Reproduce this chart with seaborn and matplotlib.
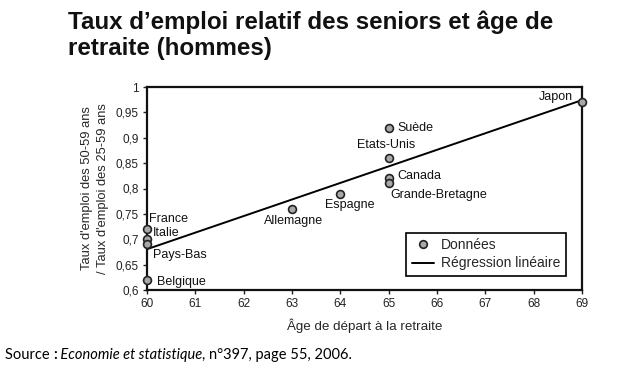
import numpy as np
import pandas as pd
import matplotlib
matplotlib.use('Agg')
import matplotlib.pyplot as plt
import seaborn as sns
from matplotlib.lines import Line2D

# données
pays = ['France', 'Italie', 'Pays-Bas', 'Belgique', 'Allemagne', 'Espagne',
        'Etats-Unis', 'Suède', 'Canada', 'Grande-Bretagne', 'Japon']
age_depart = [60, 60, 60, 60, 63, 64, 65, 65, 65, 65, 69]
taux_relatif = [0.72, 0.70, 0.69, 0.62, 0.76, 0.79, 0.86, 0.92, 0.82, 0.81, 0.97]

x_ticks = list(range(60, 70))
y_ticks = [0.6, 0.65, 0.7, 0.75, 0.8, 0.85, 0.9, 0.95, 1.0]
y_tick_labels = ['0,6', '0,65', '0,7', '0,75', '0,8', '0,85', '0,9', '0,95', '1']

# position des étiquettes (décalage en pixels, alignement)
label_pos = {
    'France': (2, 10, 'left'),
    'Italie': (6, 6, 'left'),
    'Pays-Bas': (6, -11, 'left'),
    'Belgique': (10, -2, 'left'),
    'Allemagne': (1, -12, 'center'),
    'Espagne': (9, -11, 'center'),
    'Etats-Unis': (-3, 13, 'center'),
    'Suède': (9, 0, 'left'),
    'Canada': (9, 2, 'left'),
    'Grande-Bretagne': (2, -12, 'left'),
    'Japon': (-9, 5, 'right'),
}

df = pd.DataFrame({'pays': pays, 'age': age_depart, 'taux': taux_relatif})

sns.set_style('ticks')
plt.rcParams['font.family'] = ['Liberation Sans', 'DejaVu Sans']

fig = plt.figure(figsize=(6.21, 3.77), dpi=100)
fig.patch.set_facecolor('white')
ax = fig.add_axes([0.237, 0.231, 0.700, 0.538])

sns.regplot(data=df, x='age', y='taux', scatter=False, ci=None, truncate=True,
            color='black', line_kws={'lw': 1.4}, ax=ax)
sns.scatterplot(data=df, x='age', y='taux', ax=ax, s=32, color='#a8a8a8',
                edgecolor='#222222', linewidth=1.2, zorder=3, clip_on=False)

for p, a, t in zip(pays, age_depart, taux_relatif):
    dx, dy, ha = label_pos[p]
    ax.annotate(p, xy=(a, t), xytext=(dx, dy), textcoords='offset pixels',
                ha=ha, va='center', fontsize=9, color='#111111')

ax.set_xlim(60, 69)
ax.set_ylim(0.6, 1.0)
ax.set_xticks(x_ticks)
ax.set_xticklabels([str(v) for v in x_ticks])
ax.set_yticks(y_ticks)
ax.set_yticklabels(y_tick_labels)
ax.tick_params(direction='out', length=3, width=1, labelsize=8.5, colors='#222222', pad=3)
for s in ax.spines.values():
    s.set_visible(True)
    s.set_linewidth(1.6)
    s.set_color('#111111')

ax.set_xlabel('Âge de départ à la retraite', fontsize=9.6, labelpad=6)
ax.set_ylabel("Taux d'emploi des 50-59 ans\n/ Taux d'emploi des 25-59 ans",
              fontsize=9.3, labelpad=5, linespacing=1.45)

handles = [Line2D([], [], marker='o', linestyle='none', markersize=5.5,
                  markerfacecolor='#a8a8a8', markeredgecolor='#222222', markeredgewidth=1.2),
           Line2D([], [], color='black', lw=1.4)]
leg = ax.legend(handles, ['Données', 'Régression linéaire'], loc='lower right',
                bbox_to_anchor=(0.963, 0.069), borderaxespad=0, fontsize=10,
                fancybox=False, framealpha=1, edgecolor='black', handlelength=1.6,
                handletextpad=0.5, borderpad=0.4, labelspacing=0.3)
leg.get_frame().set_linewidth(1.2)

fig.text(0.109, 0.972, "Taux d’emploi relatif des seniors et âge de\nretraite (hommes)",
         ha='left', va='top', fontsize=17.4, fontweight='bold', linespacing=1.15,
         color='#111111')

# ligne de source
src_kw = dict(fontsize=10.5, family=['Lato', 'DejaVu Sans'], color='black')
t1 = fig.text(5 / 621, 0.04, 'Source ', ha='left', va='bottom', **src_kw)
a1 = ax.annotate(':', xy=(1, 0), xycoords=t1, ha='left', va='bottom',
                 fontweight='bold', annotation_clip=False, **src_kw)
a2 = ax.annotate(' Economie et statistique', xy=(1, 0), xycoords=a1, ha='left',
                 va='bottom', style='italic', annotation_clip=False, **src_kw)
a3 = ax.annotate(', n°397, page 55, 2006.', xy=(1, 0), xycoords=a2, ha='left',
                 va='bottom', annotation_clip=False, **src_kw)

fig.savefig('out.png', dpi=100, facecolor='white')
